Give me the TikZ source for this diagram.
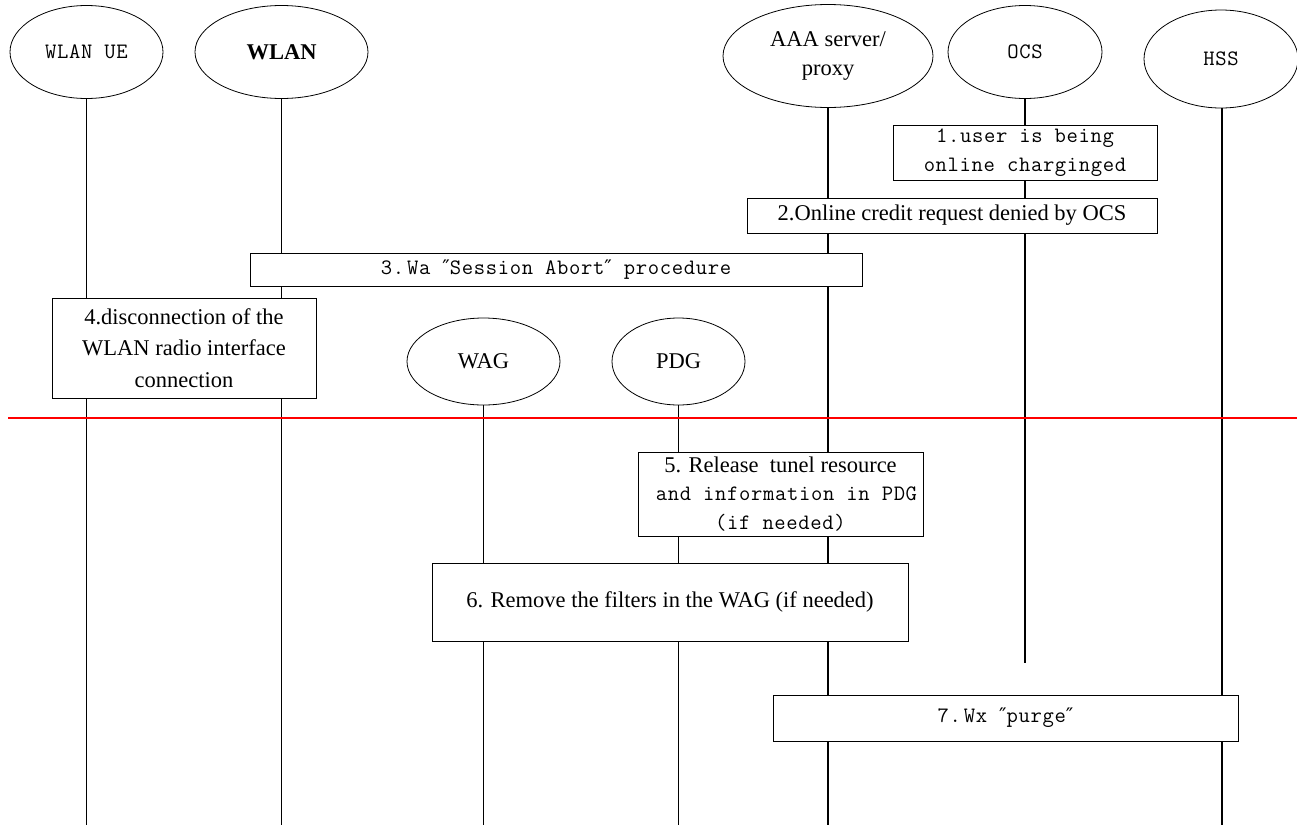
\documentclass[tikz,border=0pt]{standalone}
\usepackage{fontspec}
\setmainfont{Liberation Serif}
\newfontfamily\simfont[LetterSpace=3]{Latin Modern Mono}
\newfontfamily\primefont{DejaVu Sans}
\usetikzlibrary{shapes.geometric}
\newcommand{\rmtext}{\rmfamily\fontsize{22.5}{29}\selectfont}
\newcommand{\mtext}{\simfont\fontsize{22}{28.5}\selectfont}
\newcommand{\dprime}{{\primefont\fontsize{20}{22}\selectfont ″}}
\tikzset{
  entity/.style={draw, ellipse, inner sep=0pt, line width=0.8pt, fill=white},
  stepbox/.style={draw, rectangle, inner sep=0pt, line width=0.8pt, fill=white, align=center},
  life/.style={line width=1.3pt},
  rmlabel/.style={font=\rmtext},
  monolabel/.style={font=\mtext},
}
\begin{document}
\begin{tikzpicture}[x=1pt,y=-1pt]
\useasboundingbox (0,0) rectangle (1297,825);

% participants
\node[entity, monolabel, minimum width=153pt, minimum height=93pt] (ue) at (86.5,52) {WLAN UE};
\node[entity, rmlabel, minimum width=173pt, minimum height=93pt] (wlan) at (281.5,52) {\bfseries WLAN};
\node[entity, rmlabel, minimum width=210pt, minimum height=103pt, align=center] (aaa) at (828,56) {AAA server/\\proxy};
\node[entity, monolabel, minimum width=154pt, minimum height=93pt] (ocs) at (1025,52) {OCS};
\node[entity, monolabel, minimum width=154pt, minimum height=98pt] (hss) at (1221,59) {HSS};
\node[entity, rmlabel, minimum width=153pt, minimum height=87pt] (wag) at (483.5,361.5) {WAG};
\node[entity, rmlabel, minimum width=133pt, minimum height=87pt] (pdg) at (678.5,361.5) {PDG};

% lifeline ends
\coordinate (ueend) at (86.5,825);
\coordinate (wlanend) at (281.5,825);
\coordinate (aaaend) at (828,825);
\coordinate (ocsend) at (1025,663);
\coordinate (hssend) at (1222,825);
\coordinate (wagend) at (483.5,825);
\coordinate (pdgend) at (678.5,825);

\draw[life] (ue.south) -- (ueend);
\draw[life] (wlan.south) -- (wlanend);
\draw[life] (aaa.south) -- (aaaend);
\draw[life] (ocs.south) -- (ocsend);
\draw[life] (hss.south -| hssend) -- (hssend);
\draw[life] (wag.south) -- (wagend);
\draw[life] (pdg.south) -- (pdgend);

% separator
\coordinate (sepl) at (8,418);
\coordinate (sepr) at (1297,418);
\draw[red, line width=1.1pt] (sepl) -- (sepr);

% procedure steps
\node[stepbox, monolabel, minimum width=264pt, minimum height=55pt] (s1) at (1025,152.5)
  {1.user is being\\online charginged};
\node[stepbox, rmlabel, minimum width=410pt, minimum height=35pt] (s2) at (952,215.5)
  {2.Online credit request denied by OCS};
\node[stepbox, monolabel, minimum width=612pt, minimum height=33pt] (s3) at (556,269.5)
  {3.\kern3pt Wa \dprime Session Abort\dprime\ procedure};
\node[stepbox, font=\rmfamily\fontsize{22.5}{31.5}\selectfont, minimum width=264pt, minimum height=100pt] (s4) at (184,348)
  {4.disconnection of the\\WLAN radio interface\\connection};
\node[stepbox, monolabel, minimum width=285pt, minimum height=84pt] (s5) at (780.5,494)
  {{\rmtext 5. Release\ \ tunel resource}\\~and information in PDG\\(if needed)};
\node[stepbox, rmlabel, minimum width=476pt, minimum height=78pt] (s6) at (670,602)
  {6. Remove the filters in the WAG (if needed)};
\node[stepbox, monolabel, minimum width=465pt, minimum height=46pt] (s7) at (1005.5,718)
  {7.\kern3pt Wx \dprime purge\dprime};
\end{tikzpicture}
\end{document}
